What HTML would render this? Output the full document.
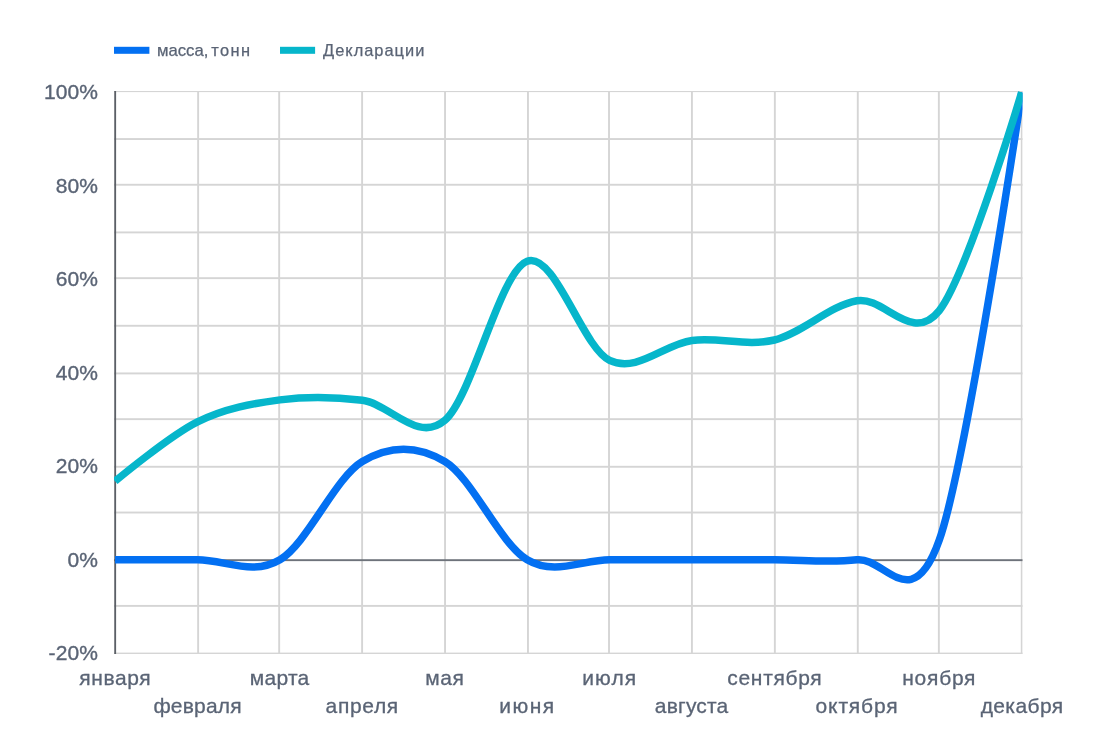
<!DOCTYPE html>
<html lang="ru">
<head>
<meta charset="utf-8">
<title>Chart</title>
<style>
html,body{margin:0;padding:0;background:#fff;}
body{width:1110px;height:736px;overflow:hidden;font-family:"Liberation Sans",sans-serif;}
svg{display:block;}
text{font-family:"Liberation Sans",sans-serif;fill:#5a6475;stroke:#5a6475;stroke-width:0.35px;}
.tick{font-size:21px;stroke-width:0.3px;}
.ytick{font-size:21px;letter-spacing:0.1px;}
.leg{font-size:16.4px;stroke-width:0.25px;}
</style>
</head>
<body>
<svg width="1110" height="736" viewBox="0 0 1110 736">
<defs><clipPath id="area"><rect x="114" y="90.9" width="908.5" height="563.1"/></clipPath></defs>

<g clip-path="url(#area)">
<g fill="#d5d5d5">
<rect x="197.18" y="90" width="1.9" height="565"/>
<rect x="278.22" y="90" width="1.9" height="565"/>
<rect x="361.15" y="90" width="1.9" height="565"/>
<rect x="444.08" y="90" width="1.9" height="565"/>
<rect x="527.01" y="90" width="1.9" height="565"/>
<rect x="608.06" y="90" width="1.9" height="565"/>
<rect x="690.98" y="90" width="1.9" height="565"/>
<rect x="773.91" y="90" width="1.9" height="565"/>
<rect x="856.84" y="90" width="1.9" height="565"/>
<rect x="937.89" y="90" width="1.9" height="565"/>
<rect x="1020.81" y="90" width="1.9" height="565"/>
<rect x="114" y="90.9" width="910" height="1.2"/>
<rect x="114" y="138.08" width="910" height="1.9"/>
<rect x="114" y="183.81" width="910" height="1.9"/>
<rect x="114" y="231.45" width="910" height="1.9"/>
<rect x="114" y="277.19" width="910" height="1.9"/>
<rect x="114" y="324.83" width="910" height="1.9"/>
<rect x="114" y="372.47" width="910" height="1.9"/>
<rect x="114" y="418.20" width="910" height="1.9"/>
<rect x="114" y="465.84" width="910" height="1.9"/>
<rect x="114" y="511.58" width="910" height="1.9"/>
<rect x="114" y="604.95" width="910" height="1.9"/>
<rect x="114" y="652.59" width="910" height="1.9"/>
</g>
<rect x="114" y="559.22" width="910" height="1.9" fill="#6e737b"/>
<rect x="114.25" y="90" width="1.85" height="565" fill="#5c6067"/>
<path d="M115.10 559.75 C115.10 559.75 170.05 559.75 197.52 559.75 C224.99 559.75 252.46 576.11 279.94 559.75 C307.41 543.39 334.88 477.94 362.35 461.57 C389.83 445.21 417.30 445.21 444.77 461.57 C472.25 477.94 499.72 543.39 527.19 559.75 C554.66 576.11 582.14 559.75 609.61 559.75 C637.08 559.75 664.55 559.75 692.03 559.75 C719.50 559.75 746.97 559.75 774.45 559.75 C801.92 559.75 829.39 563.02 856.86 559.75 C884.34 556.48 911.81 618.03 939.28 540.12 C966.75 462.20 1021.70 92.25 1021.70 92.25" fill="none" stroke="#0370f2" stroke-width="7.5" stroke-linejoin="round"/>
<path d="M115.10 481.21 C115.10 481.21 170.05 435.39 197.52 421.84 C224.99 408.28 252.46 403.45 279.94 399.87 C307.41 396.28 334.88 396.90 362.35 400.33 C389.83 403.76 417.30 443.62 444.77 420.44 C472.25 397.25 499.72 271.26 527.19 261.25 C554.66 251.24 582.14 347.15 609.61 360.36 C637.08 373.57 664.55 343.88 692.03 340.49 C719.50 337.10 746.97 346.65 774.45 340.02 C801.92 333.40 829.39 305.66 856.86 300.75 C884.34 295.85 911.81 345.32 939.28 310.57 C966.75 275.82 1021.70 92.25 1021.70 92.25" fill="none" stroke="#06b6cb" stroke-width="7.5" stroke-linejoin="round"/>
</g>
<rect x="114" y="46.8" width="35.4" height="7" fill="#0370f2"/>
<text class="leg" y="56"><tspan x="156.9" textLength="51.5" lengthAdjust="spacingAndGlyphs">масса,</tspan> <tspan x="211.2" textLength="38.9" lengthAdjust="spacing">тонн</tspan></text>
<rect x="280" y="46.8" width="35.1" height="7" fill="#06b6cb"/>
<text class="leg" x="323.1" y="56" textLength="101.2" lengthAdjust="spacing">Декларации</text>
<text class="ytick" text-anchor="end" x="98" y="99.10">100%</text>
<text class="ytick" text-anchor="end" x="98" y="192.60">80%</text>
<text class="ytick" text-anchor="end" x="98" y="286.10">60%</text>
<text class="ytick" text-anchor="end" x="98" y="379.60">40%</text>
<text class="ytick" text-anchor="end" x="98" y="473.10">20%</text>
<text class="ytick" text-anchor="end" x="98" y="566.60">0%</text>
<text class="ytick" text-anchor="end" x="98" y="660.10">-20%</text>
<text class="tick" x="79.34" y="684.60" textLength="71.28" lengthAdjust="spacing">января</text>
<text class="tick" x="153.41" y="712.60" textLength="88.21" lengthAdjust="spacing">февраля</text>
<text class="tick" x="249.74" y="684.60" textLength="59.54" lengthAdjust="spacing">марта</text>
<text class="tick" x="325.57" y="712.60" textLength="72.63" lengthAdjust="spacing">апреля</text>
<text class="tick" x="425.34" y="684.60" textLength="38.41" lengthAdjust="spacing">мая</text>
<text class="tick" x="499.35" y="712.60" textLength="54.81" lengthAdjust="spacing">июня</text>
<text class="tick" x="582.21" y="684.60" textLength="53.99" lengthAdjust="spacing">июля</text>
<text class="tick" x="654.80" y="712.60" textLength="73.48" lengthAdjust="spacing">августа</text>
<text class="tick" x="727.36" y="684.60" textLength="94.25" lengthAdjust="spacing">сентября</text>
<text class="tick" x="815.58" y="712.60" textLength="82.04" lengthAdjust="spacing">октября</text>
<text class="tick" x="902.21" y="684.60" textLength="73.27" lengthAdjust="spacing">ноября</text>
<text class="tick" x="980.63" y="712.60" textLength="82.52" lengthAdjust="spacing">декабря</text>
</svg>
</body>
</html>
